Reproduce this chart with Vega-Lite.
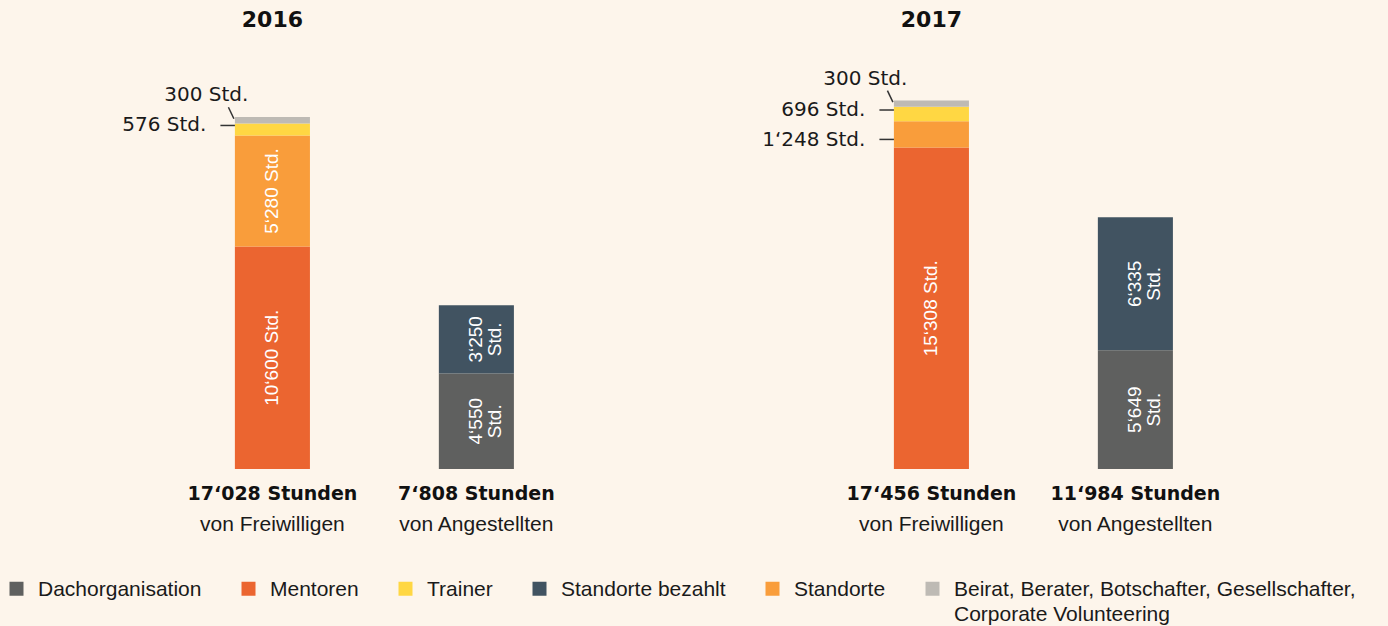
{
  "$schema": "https://vega.github.io/schema/vega-lite/v6.json",
  "width": 1388,
  "height": 469,
  "autosize": {"type": "none"},
  "padding": {"left": 0, "top": 0, "right": 0, "bottom": 157},
  "background": "#FDF5EB",
  "config": {"view": {"stroke": null}},
  "data": {
    "values": [
      {"year": "2016", "type": "Freiwillige", "cat": "Mentoren", "hours": 10600, "label": "10‘600 Std."},
      {"year": "2016", "type": "Freiwillige", "cat": "Standorte", "hours": 5280, "label": "5‘280 Std."},
      {"year": "2016", "type": "Freiwillige", "cat": "Trainer", "hours": 576, "label": "576 Std."},
      {"year": "2016", "type": "Freiwillige", "cat": "Beirat, Berater, Botschafter, Gesellschafter, Corporate Volunteering", "hours": 300, "label": "300 Std."},
      {"year": "2016", "type": "Angestellte", "cat": "Dachorganisation", "hours": 4550, "label": "4‘550 Std."},
      {"year": "2016", "type": "Angestellte", "cat": "Standorte bezahlt", "hours": 3250, "label": "3‘250 Std."},
      {"year": "2017", "type": "Freiwillige", "cat": "Mentoren", "hours": 15308, "label": "15‘308 Std."},
      {"year": "2017", "type": "Freiwillige", "cat": "Standorte", "hours": 1248, "label": "1‘248 Std."},
      {"year": "2017", "type": "Freiwillige", "cat": "Trainer", "hours": 696, "label": "696 Std."},
      {"year": "2017", "type": "Freiwillige", "cat": "Beirat, Berater, Botschafter, Gesellschafter, Corporate Volunteering", "hours": 300, "label": "300 Std."},
      {"year": "2017", "type": "Angestellte", "cat": "Dachorganisation", "hours": 5649, "label": "5‘649 Std."},
      {"year": "2017", "type": "Angestellte", "cat": "Standorte bezahlt", "hours": 6335, "label": "6‘335 Std."}
    ]
  },
  "transform": [
    {"calculate": "indexof(['Dachorganisation','Standorte bezahlt','Mentoren','Standorte','Trainer','Beirat, Berater, Botschafter, Gesellschafter, Corporate Volunteering'], datum.cat)", "as": "rank"}
  ],
  "encoding": {
    "x": {"field": "year", "type": "nominal", "axis": null, "scale": {"domain": ["2016", "2017"], "paddingInner": 0.5766, "paddingOuter": 0.3414, "align": 0.522}},
    "xOffset": {"field": "type", "type": "nominal", "scale": {"domain": ["Freiwillige", "Angestellte"], "paddingInner": 0.632, "paddingOuter": 0}}
  },
  "layer": [
    {
      "mark": {"type": "bar"},
      "encoding": {
        "y": {"field": "hours", "type": "quantitative", "stack": "zero", "axis": null, "scale": {"domain": [0, 22333], "nice": false}},
        "order": {"field": "rank", "type": "quantitative"},
        "color": {
          "field": "cat", "type": "nominal",
          "scale": {
            "domain": ["Dachorganisation", "Mentoren", "Trainer", "Standorte bezahlt", "Standorte", "Beirat, Berater, Botschafter, Gesellschafter, Corporate Volunteering"],
            "range": ["#5F605F", "#EB6530", "#FFD743", "#415361", "#F99D3B", "#BEBAB4"]
          },
          "legend": {
            "orient": "none", "legendX": 6, "legendY": 578, "direction": "horizontal", "columns": 6, "title": null,
            "symbolType": "square", "symbolSize": 196, "symbolStrokeWidth": 0, "symbolOpacity": 1,
            "labelFont": "Liberation Sans", "labelFontSize": 21, "labelColor": "#1a1a1a", "labelOffset": 11,
            "columnPadding": 36, "labelLimit": 700, "labelBaseline": "alphabetic",
            "labelExpr": "indexof(datum.label, 'Beirat') == 0 ? ['Beirat, Berater, Botschafter, Gesellschafter,', 'Corporate Volunteering'] : [datum.label, '']",
            "encode": {"labels": {"update": {"lineHeight": {"value": 25}, "dy": {"value": 7}}}}
          }
        }
      }
    },
    {
      "mark": {"type": "text", "angle": 270, "color": "#ffffff", "font": "Liberation Sans Narrow, Liberation Sans", "fontSize": 19, "baseline": "middle", "align": "center"},
      "encoding": {
        "y": {"field": "hours", "type": "quantitative", "stack": "zero", "bandPosition": 0.5, "scale": {"domain": [0, 22333], "nice": false}},
        "order": {"field": "rank", "type": "quantitative"},
        "text": {"condition": {"test": "datum.type == 'Freiwillige' && datum.hours > 2000", "field": "label", "type": "nominal"}, "value": ""}
      }
    },
    {
      "mark": {"type": "text", "angle": 270, "color": "#ffffff", "font": "Liberation Sans Narrow, Liberation Sans", "fontSize": 19, "baseline": "middle", "align": "center", "lineBreak": " ", "lineHeight": 19},
      "encoding": {
        "y": {"field": "hours", "type": "quantitative", "stack": "zero", "bandPosition": 0.5, "scale": {"domain": [0, 22333], "nice": false}},
        "order": {"field": "rank", "type": "quantitative"},
        "text": {"condition": {"test": "datum.type == 'Angestellte'", "field": "label", "type": "nominal"}, "value": ""}
      }
    },
    {
      "mark": {"type": "text", "color": "#1a1a1a", "font": "DejaVu Sans", "fontSize": 20, "baseline": "middle", "align": "right", "dx": -66, "dy": -4},
      "encoding": {
        "y": {"field": "hours", "type": "quantitative", "stack": "zero", "bandPosition": 0.5, "scale": {"domain": [0, 22333], "nice": false}},
        "order": {"field": "rank", "type": "quantitative"},
        "text": {"condition": {"test": "datum.type == 'Freiwillige' && datum.cat == 'Trainer'", "field": "label", "type": "nominal"}, "value": ""}
      }
    },
    {
      "mark": {"type": "point", "shape": "M-1.04,-0.08L-0.75,-0.08", "size": 10000, "filled": false, "color": "#333333", "strokeWidth": 1.5},
      "encoding": {
        "y": {"field": "hours", "type": "quantitative", "stack": "zero", "bandPosition": 0.5, "scale": {"domain": [0, 22333], "nice": false}},
        "order": {"field": "rank", "type": "quantitative"},
        "opacity": {"condition": {"test": "datum.type == 'Freiwillige' && datum.cat == 'Trainer'", "value": 1}, "value": 0}
      }
    },
    {
      "mark": {"type": "text", "color": "#1a1a1a", "font": "DejaVu Sans", "fontSize": 20, "baseline": "middle", "align": "right", "dx": -66, "dy": 6},
      "encoding": {
        "y": {"field": "hours", "type": "quantitative", "stack": "zero", "bandPosition": 0.5, "scale": {"domain": [0, 22333], "nice": false}},
        "order": {"field": "rank", "type": "quantitative"},
        "text": {"condition": {"test": "datum.type == 'Freiwillige' && datum.cat == 'Standorte' && datum.hours < 2000", "field": "label", "type": "nominal"}, "value": ""}
      }
    },
    {
      "mark": {"type": "point", "shape": "M-1.04,0.1L-0.75,0.1", "size": 10000, "filled": false, "color": "#333333", "strokeWidth": 1.5},
      "encoding": {
        "y": {"field": "hours", "type": "quantitative", "stack": "zero", "bandPosition": 0.5, "scale": {"domain": [0, 22333], "nice": false}},
        "order": {"field": "rank", "type": "quantitative"},
        "opacity": {"condition": {"test": "datum.type == 'Freiwillige' && datum.cat == 'Standorte' && datum.hours < 2000", "value": 1}, "value": 0}
      }
    },
    {
      "mark": {"type": "text", "color": "#1a1a1a", "font": "DejaVu Sans", "fontSize": 20, "baseline": "middle", "align": "right", "dx": -24, "dy": -25},
      "encoding": {
        "y": {"field": "hours", "type": "quantitative", "stack": "zero", "bandPosition": 0.5, "scale": {"domain": [0, 22333], "nice": false}},
        "order": {"field": "rank", "type": "quantitative"},
        "text": {"condition": {"test": "indexof(datum.cat, 'Beirat') == 0", "field": "label", "type": "nominal"}, "value": ""}
      }
    },
    {
      "mark": {"type": "point", "shape": "M-0.88,-0.26L-0.77,-0.03", "size": 10000, "filled": false, "color": "#333333", "strokeWidth": 1.5},
      "encoding": {
        "y": {"field": "hours", "type": "quantitative", "stack": "zero", "bandPosition": 0.5, "scale": {"domain": [0, 22333], "nice": false}},
        "order": {"field": "rank", "type": "quantitative"},
        "opacity": {"condition": {"test": "indexof(datum.cat, 'Beirat') == 0", "value": 1}, "value": 0}
      }
    },
    {
      "transform": [{"filter": "datum.type == 'Freiwillige' && datum.cat == 'Mentoren'"}],
      "mark": {"type": "text", "color": "#111111", "font": "DejaVu Sans", "fontWeight": "bold", "fontSize": 22, "baseline": "middle", "align": "center"},
      "encoding": {
        "y": {"datum": 21381, "type": "quantitative", "scale": {"domain": [0, 22333], "nice": false}},
        "text": {"field": "year", "type": "nominal"}
      }
    },
    {
      "data": {"values": [
        {"year": "2016", "type": "Freiwillige", "total": "17‘028 Stunden", "sub": "von Freiwilligen"},
        {"year": "2016", "type": "Angestellte", "total": "7‘808 Stunden", "sub": "von Angestellten"},
        {"year": "2017", "type": "Freiwillige", "total": "17‘456 Stunden", "sub": "von Freiwilligen"},
        {"year": "2017", "type": "Angestellte", "total": "11‘984 Stunden", "sub": "von Angestellten"}
      ]},
      "layer": [
        {
          "mark": {"type": "text", "color": "#111111", "font": "DejaVu Sans", "fontWeight": "bold", "fontSize": 19, "baseline": "middle", "align": "center", "dy": 25},
          "encoding": {
            "y": {"datum": 0, "type": "quantitative", "scale": {"domain": [0, 22333], "nice": false}},
            "text": {"field": "total", "type": "nominal"}
          }
        },
        {
          "mark": {"type": "text", "color": "#1a1a1a", "font": "Liberation Sans", "fontSize": 21, "baseline": "middle", "align": "center", "dy": 56},
          "encoding": {
            "y": {"datum": 0, "type": "quantitative", "scale": {"domain": [0, 22333], "nice": false}},
            "text": {"field": "sub", "type": "nominal"}
          }
        }
      ]
    }
  ]
}
